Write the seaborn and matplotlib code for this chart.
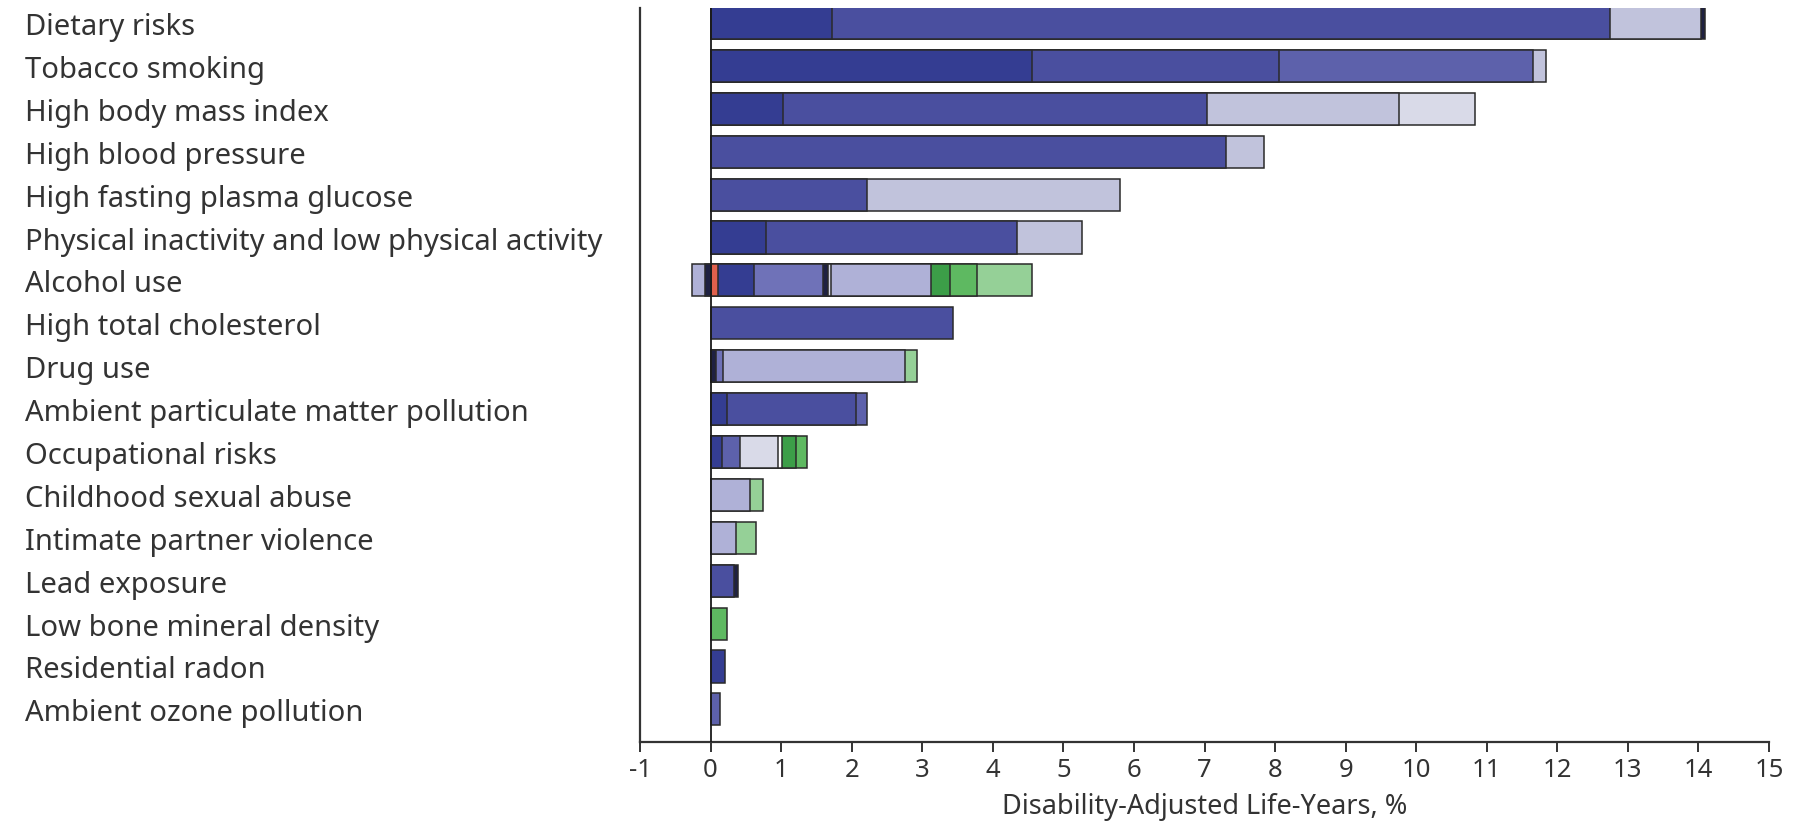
import matplotlib
matplotlib.use("Agg")
import matplotlib.pyplot as plt
import numpy as np
import pandas as pd
import seaborn as sns

# ---------------- data ----------------
risks = [
    "Dietary risks",
    "Tobacco smoking",
    "High body mass index",
    "High blood pressure",
    "High fasting plasma glucose",
    "Physical inactivity and low physical activity",
    "Alcohol use",
    "High total cholesterol",
    "Drug use",
    "Ambient particulate matter pollution",
    "Occupational risks",
    "Childhood sexual abuse",
    "Intimate partner violence",
    "Lead exposure",
    "Low bone mineral density",
    "Residential radon",
    "Ambient ozone pollution",
]

# positive segment widths (DALYs, %) and cause-group keys, per risk factor
dietary_vals = [1.72, 11.02, 1.29, 0.06]
dietary_keys = ["dark", "med", "grey", "navy"]
tobacco_vals = [4.56, 3.50, 3.60, 0.18]
tobacco_keys = ["dark", "med", "slate", "grey"]
bmi_vals = [1.02, 6.01, 2.72, 1.09]
bmi_keys = ["dark", "med", "grey", "pale"]
bp_vals = [7.31, 0.54]
bp_keys = ["med", "grey"]
glucose_vals = [2.21, 3.59]
glucose_keys = ["med", "grey"]
physical_vals = [0.78, 3.56, 0.93]
physical_keys = ["dark", "med", "grey"]
alcohol_vals = [0.11, 0.50, 0.99, 0.06, 0.05, 1.42, 0.27, 0.38, 0.78]
alcohol_keys = ["red", "dark", "slate2", "navy", "pale", "lav", "dgreen", "mgreen", "lgreen"]
alcohol_neg_vals = [-0.075, -0.19]
alcohol_neg_keys = ["navy", "lav"]
cholesterol_vals = [3.44]
cholesterol_keys = ["med"]
drug_vals = [0.08, 0.10, 2.57, 0.17]
drug_keys = ["navy", "slate2", "lav", "lgreen"]
pm_vals = [0.23, 1.83, 0.15]
pm_keys = ["dark", "med", "slate"]
occupational_vals = [0.16, 0.26, 0.54, 0.05, 0.20, 0.15]
occupational_keys = ["dark", "slate", "pale", "white", "dgreen", "mgreen"]
csa_vals = [0.56, 0.19]
csa_keys = ["lav", "lgreen"]
ipv_vals = [0.36, 0.29]
ipv_keys = ["lav", "lgreen"]
lead_vals = [0.33, 0.06]
lead_keys = ["med", "navy"]
bone_vals = [0.24]
bone_keys = ["mgreen"]
radon_vals = [0.20]
radon_keys = ["dark"]
ozone_vals = [0.13]
ozone_keys = ["slate"]

x_ticks = list(range(-1, 16))
x_label = "Disability-Adjusted Life-Years, %"

# ---------------- style ----------------
palette = {
    "navy": "#1f2142",
    "dark": "#343d92",
    "med": "#4a4f9f",
    "slate": "#5d61ab",
    "slate2": "#6f72b8",
    "lav": "#afb1d7",
    "grey": "#c1c3dc",
    "pale": "#d9dae8",
    "white": "#ffffff",
    "red": "#e0604c",
    "dgreen": "#3c9e48",
    "mgreen": "#5eb961",
    "lgreen": "#95d097",
}
text_color = "#333333"
edge_color = "#2a2a2a"

sns.set_style("white")
plt.rcParams["font.family"] = ["Noto Sans", "DejaVu Sans"]

pos_segments = [
    (dietary_vals, dietary_keys), (tobacco_vals, tobacco_keys), (bmi_vals, bmi_keys),
    (bp_vals, bp_keys), (glucose_vals, glucose_keys), (physical_vals, physical_keys),
    (alcohol_vals, alcohol_keys), (cholesterol_vals, cholesterol_keys), (drug_vals, drug_keys),
    (pm_vals, pm_keys), (occupational_vals, occupational_keys), (csa_vals, csa_keys),
    (ipv_vals, ipv_keys), (lead_vals, lead_keys), (bone_vals, bone_keys),
    (radon_vals, radon_keys), (ozone_vals, ozone_keys),
]
neg_segments = {"Alcohol use": (alcohol_neg_vals, alcohol_neg_keys)}

W, H = 1793, 829
fig = plt.figure(figsize=(W / 100, H / 100), dpi=100)
ax_left, ax_right, ax_top, ax_bottom = 640, 1769, 9, 743
ax = fig.add_axes([ax_left / W, (H - ax_bottom) / H,
                   (ax_right - ax_left) / W, (ax_bottom - ax_top) / H])


def draw_layers(seg_by_risk):
    n_layers = max(len(v) for v, _ in seg_by_risk.values())
    for k in reversed(range(n_layers)):
        rows = []
        for risk, (vals, keys) in seg_by_risk.items():
            if len(vals) > k:
                rows.append({"risk": risk, "end": float(np.sum(vals[:k + 1])),
                             "color": palette[keys[k]]})
        df = pd.DataFrame(rows)
        sns.barplot(data=df, x="end", y="risk", hue="risk", order=risks,
                    palette=dict(zip(df["risk"], df["color"])),
                    dodge=False, legend=False, orient="h", errorbar=None,
                    width=0.75, saturation=1, edgecolor=edge_color,
                    linewidth=1.1, ax=ax, zorder=2)


draw_layers({r: s for r, s in zip(risks, pos_segments)})
draw_layers(neg_segments)

ax.axvline(0, color="#1a1a1a", lw=1.3, zorder=3)

ax.set_xlim(-1, 15)
ax.set_ylim(16.76, -0.35)
ax.set_xticks(x_ticks)
ax.set_xticklabels([str(t) for t in x_ticks])
ax.set_xlabel(x_label, fontsize=19.5, color=text_color, labelpad=7)
ax.set_ylabel("")

for s in ["top", "right"]:
    ax.spines[s].set_visible(False)
for s in ["left", "bottom"]:
    ax.spines[s].set_color("#333333")
    ax.spines[s].set_linewidth(1.6)

ax.tick_params(axis="x", direction="out", length=7, width=1.4, color="#333333",
               labelsize=18.5, labelcolor=text_color, pad=4, bottom=True)
ax.tick_params(axis="y", length=0, pad=(ax_left - 25) * 0.72, labelsize=21,
               labelcolor=text_color)
for lbl in ax.get_yticklabels():
    lbl.set_horizontalalignment("left")

fig.savefig("out.png", dpi=100, facecolor="white")
